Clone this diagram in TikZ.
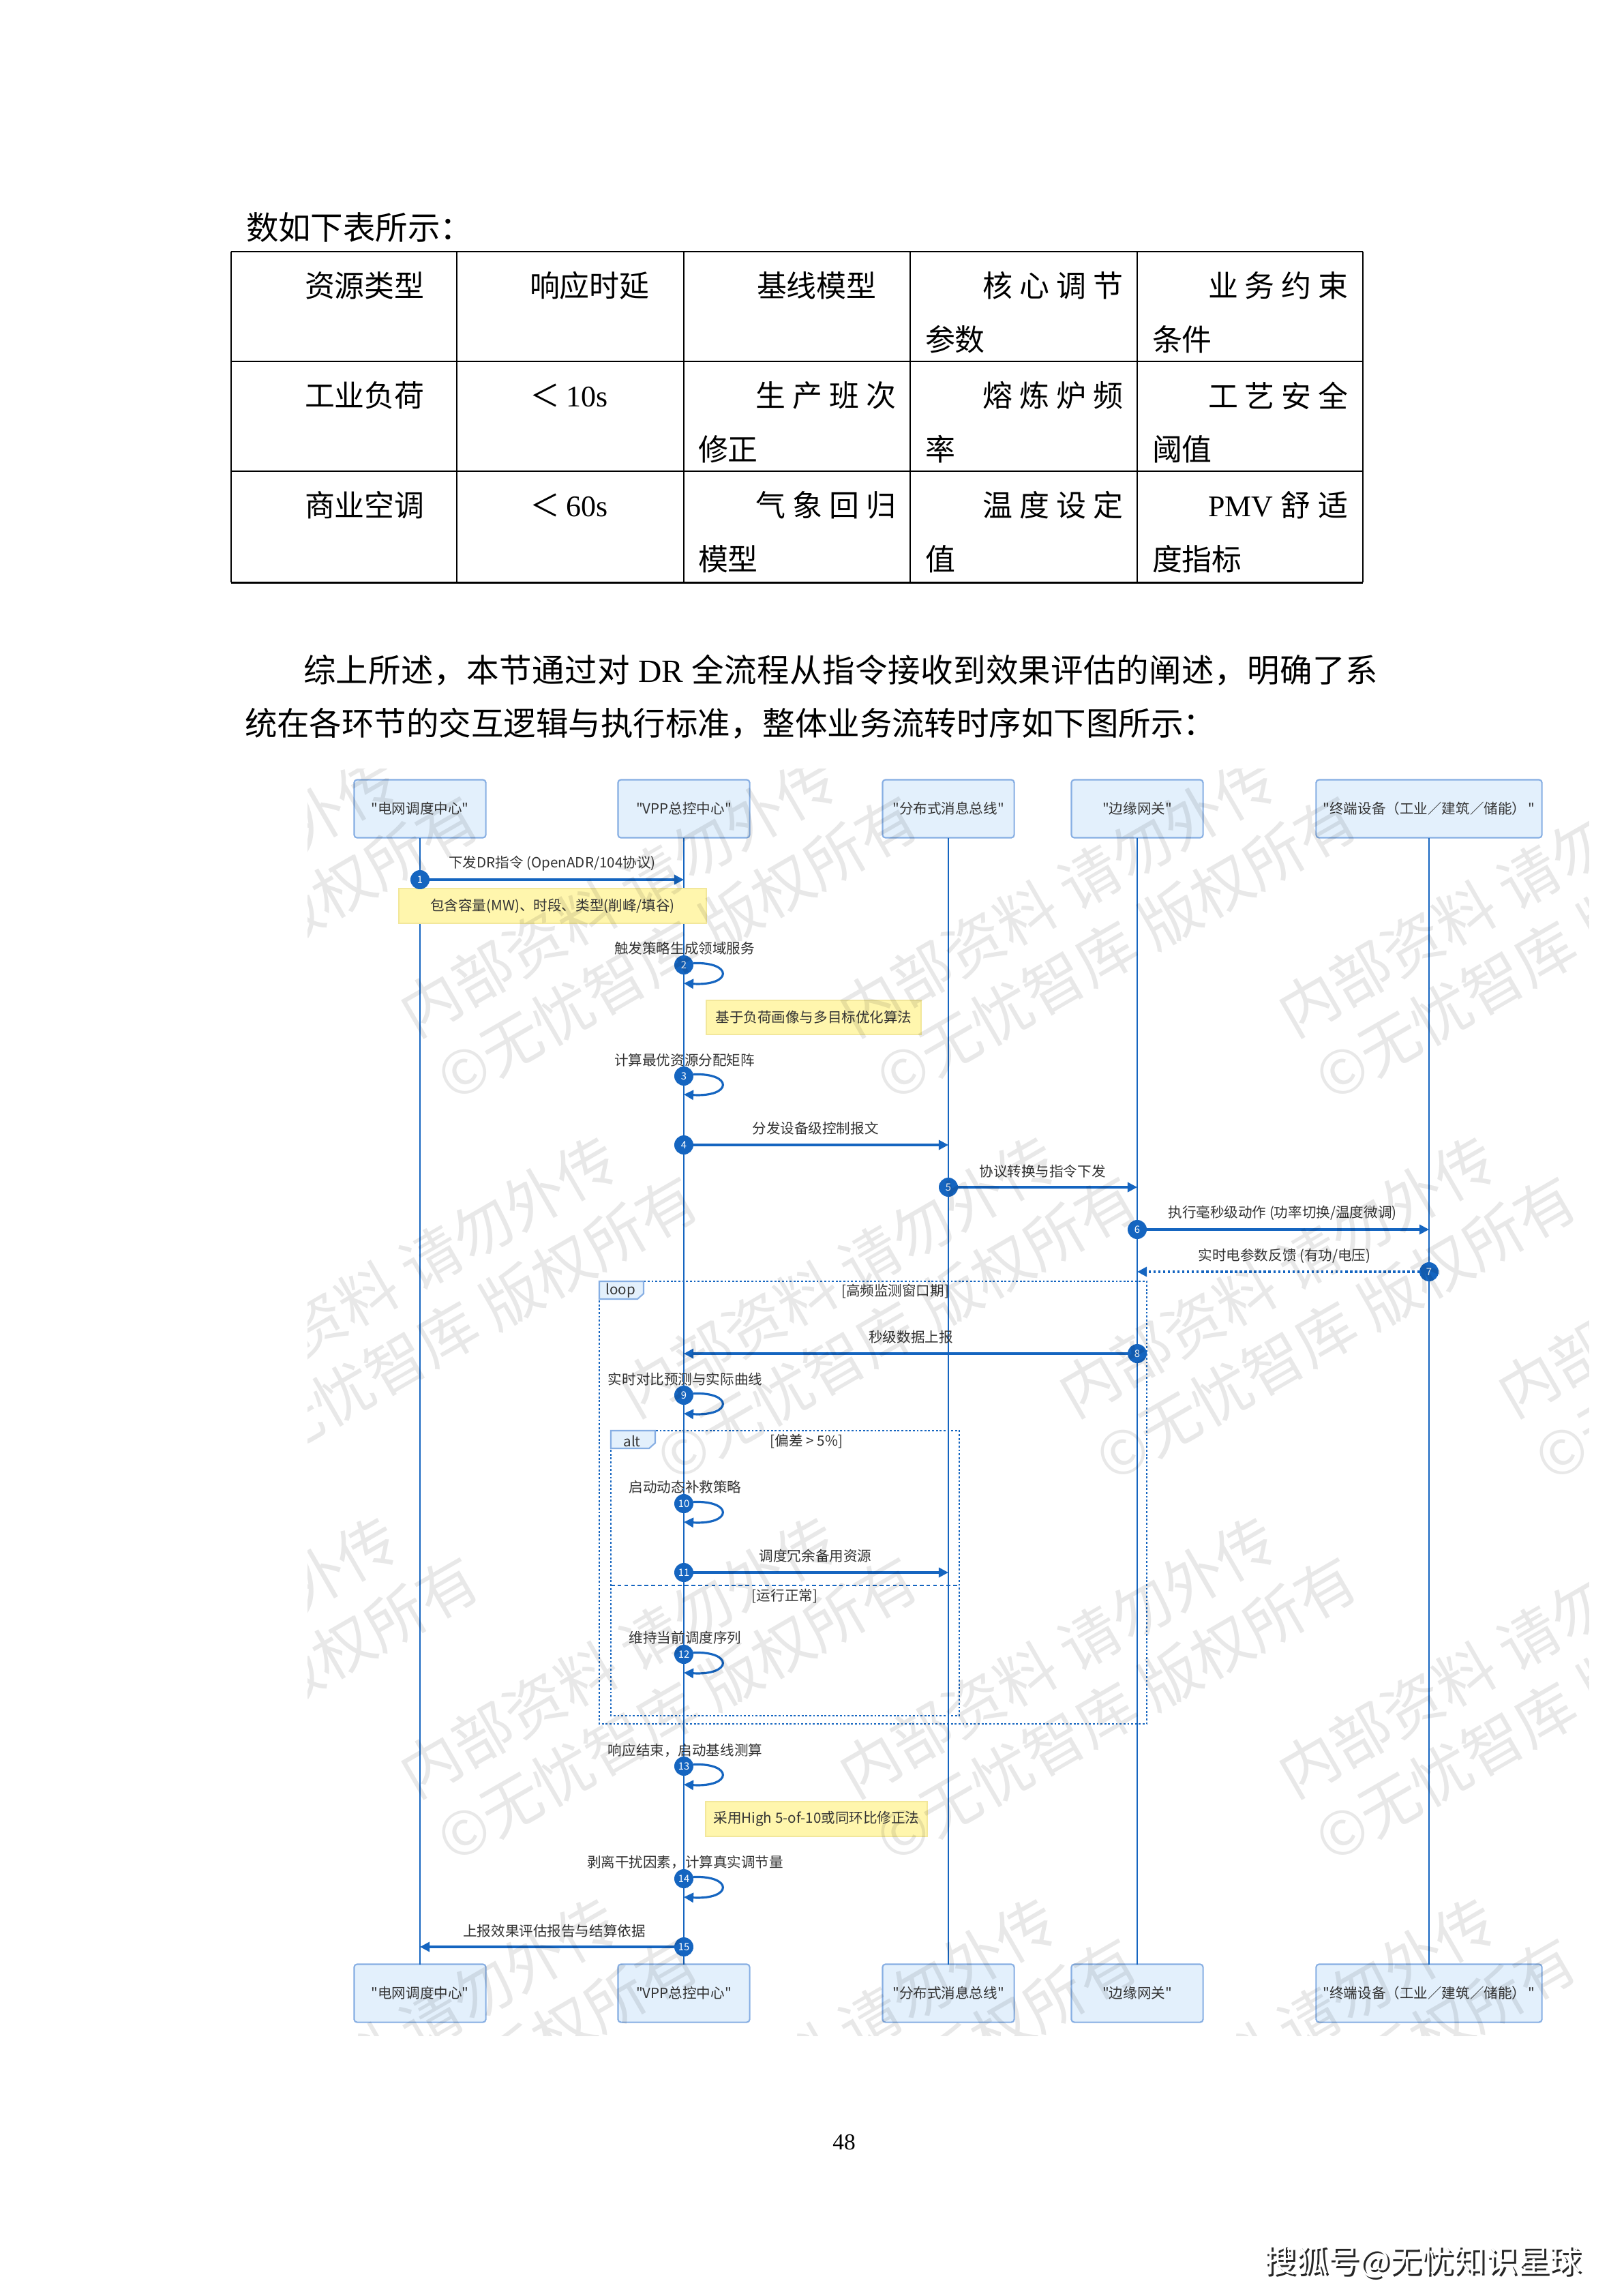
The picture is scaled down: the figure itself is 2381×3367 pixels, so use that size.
\documentclass[tikz,border=0pt]{standalone}
\usepackage{fontspec}
\setmainfont{Noto Sans CJK SC}
\newfontfamily\dgf{Noto Sans CJK SC}
\newfontfamily\lser{Liberation Serif}
\usetikzlibrary{arrows.meta}
\makeatletter
\newcommand\spreadline[2]{\hbox to #1{\@tfor\sl@t:=#2\do{\sl@t\hfil}\unskip}}
\makeatother
\newcommand\bodyfont{\fontsize{13.5pt}{16pt}\selectfont}
\newcommand\tabfont{\fontsize{12.5pt}{15pt}\selectfont}
\newcommand\dgfont{\dgf\fontsize{5.85pt}{7pt}\selectfont}
\newcommand\numfont{\dgf\fontsize{4.2pt}{5pt}\selectfont}
\newcommand\wmfont{\fontsize{25pt}{31pt}\selectfont}
\definecolor{lblue}{HTML}{1565C0}
\definecolor{boxfill}{HTML}{E3F0FC}
\definecolor{boxdraw}{HTML}{86AEE3}
\definecolor{notefill}{HTML}{FFF6AD}
\definecolor{notedraw}{HTML}{F2E79B}
\definecolor{dgtext}{HTML}{333333}
\begin{document}
\begin{tikzpicture}[x=0.01cm,y=-0.01cm,
  every node/.style={inner sep=0pt, outer sep=0pt},
  body/.style={anchor=west, font=\bodyfont},
  tab/.style={anchor=west, font=\tabfont},
  part/.style={draw=boxdraw, fill=boxfill, line width=0.6pt, rounded corners=1.2pt,
     minimum width=1.93cm, minimum height=0.85cm, font=\dgfont, text=dgtext},
  life/.style={lblue, line width=0.7pt},
  msg/.style={lblue, line width=0.9pt, -{Triangle[length=4pt,width=4pt]}},
  reply/.style={msg, dash pattern=on 1pt off 1pt},
  num/.style={circle, fill=lblue, minimum size=0.28cm, text=white, font=\numfont},
  note/.style={fill=notefill, draw=notedraw, line width=0.4pt, font=\dgfont, text=dgtext},
  lbl/.style={font=\dgfont, text=dgtext},
  frame/.style={lblue, line width=0.75pt, dash pattern=on 0.8pt off 0.8pt},
  tagst/.style={fill=boxfill, draw=boxdraw, line width=0.6pt},
  wm/.style={rotate=30, align=left, font=\wmfont, text=black, text opacity=0.09}
]
\useasboundingbox[fill=white] (0,0) rectangle (2381,3367);

% ---------- text above ----------
\node[body] (intro) at (361,334) {数如下表所示：};

% ---------- table ----------
\foreach \yy in {369,530,691,854} \draw[line width=0.85pt] (339,\yy) -- (1999,\yy);
\foreach \xx in {339,670,1003,1335,1668,1999} \draw[line width=0.45pt] (\xx,369) -- (\xx,854);

\node[tab] (c11) at (447,419) {资源类型};
\node[tab] (c12) at (777,419) {响应时延};
\node[tab] (c13) at (1110,419) {基线模型};
\node[tab] (c14a) at (1441,419) {\spreadline{2.06cm}{核心调节}};
\node[tab] (c14b) at (1357,498) {参数};
\node[tab] (c15a) at (1772,419) {\spreadline{2.05cm}{业务约束}};
\node[tab] (c15b) at (1690,498) {条件};

\node[tab] (c21) at (447,580) {工业负荷};
\node[tab] (c22) at (777,580) {＜\hspace{0.1cm}{\lser 10s}};
\node[tab] (c23a) at (1108,580) {\spreadline{2.06cm}{生产班次}};
\node[tab] (c23b) at (1024,659) {修正};
\node[tab] (c24a) at (1441,580) {\spreadline{2.06cm}{熔炼炉频}};
\node[tab] (c24b) at (1357,659) {率};
\node[tab] (c25a) at (1772,580) {\spreadline{2.05cm}{工艺安全}};
\node[tab] (c25b) at (1690,659) {阈值};

\node[tab] (c31) at (447,741) {商业空调};
\node[tab] (c32) at (777,741) {＜\hspace{0.1cm}{\lser 60s}};
\node[tab] (c33a) at (1108,741) {\spreadline{2.06cm}{气象回归}};
\node[tab] (c33b) at (1024,820) {模型};
\node[tab] (c34a) at (1441,741) {\spreadline{2.06cm}{温度设定}};
\node[tab] (c34b) at (1357,820) {值};
\node[tab] (c35a) at (1772,741) {\spreadline{2.05cm}{{{\lser PMV}}舒适}};
\node[tab] (c35b) at (1690,820) {度指标};

% ---------- paragraph ----------
\node[body] (para1) at (445,983) {\spreadline{15.75cm}{综上所述，本节通过对{{\lser\ DR\ }}全流程从指令接收到效果评估的阐述，明确了系}};
\node[body] (para2) at (359,1061) {统在各环节的交互逻辑与执行标准，整体业务流转时序如下图所示：};

% ---------- participants ----------
\node[part] (pa1) at (616,1186) {"电网调度中心"};
\node[part] (pa2) at (1003,1186) {"VPP总控中心"};
\node[part] (pa3) at (1391,1186) {"分布式消息总线"};
\node[part] (pa4) at (1668,1186) {"边缘网关"};
\node[part, minimum width=3.31cm] (pa5) at (2096,1186) {"终端设备（工业／建筑／储能）\,"};
\node[part] (pb1) at (616,2923) {"电网调度中心"};
\node[part] (pb2) at (1003,2923) {"VPP总控中心"};
\node[part] (pb3) at (1391,2923) {"分布式消息总线"};
\node[part] (pb4) at (1668,2923) {"边缘网关"};
\node[part, minimum width=3.31cm] (pb5) at (2096,2923) {"终端设备（工业／建筑／储能）\,"};

\draw[life] (pa1) -- (pb1);
\draw[life] (pa2) -- (pb2);
\draw[life] (pa3) -- (pb3);
\draw[life] (pa4) -- (pb4);
\draw[life] (pa5) -- (pb5);

% ---------- frames ----------
\draw[frame] (879,1879) rectangle (1682,2528);
\draw[tagst] (879,1879) -- (944,1879) -- (944,1897) -- (935,1905) -- (879,1905) -- cycle;
\node[lbl] (looptag) at (910,1893) {loop};
\node[lbl] (loopcond) at (1313,1894) {[高频监测窗口期]};

\draw[frame] (896,2098) rectangle (1407,2516);
\draw[tagst] (896,2098) -- (961,2098) -- (961,2116) -- (952,2124) -- (896,2124) -- cycle;
\node[lbl] (alttag) at (927,2113) {alt};
\node[lbl] (altcond1) at (1183,2114) {[偏差 > 5\%]};
\draw[lblue, line width=0.75pt, dash pattern=on 1.6pt off 1.2pt] (896,2325) -- (1407,2325);
\node[lbl] (altcond2) at (1151,2341) {[运行正常]};

% ---------- notes ----------
\node[note, minimum width=4.51cm, minimum height=0.51cm] (note1) at (810.5,1328.5) {包含容量(MW)、时段、类型(削峰/填谷)};
\node[note, minimum width=3.15cm, minimum height=0.50cm] (note2) at (1193.5,1492) {基于负荷画像与多目标优化算法};
\node[note, minimum width=3.25cm, minimum height=0.51cm] (note3) at (1197.5,2667.5) {采用High 5-of-10或同环比修正法};

% ---------- messages ----------
\node[num] (n1) at (616,1290) {1};
\coordinate (e1) at (1003,1290);
\draw[msg] (n1) -- (e1);
\node[lbl] (l1) at (810,1266) {下发DR指令 (OpenADR/104协议)};

\node[num] (n2) at (1003,1415) {2};
\coordinate (e2) at (1003,1442);
\draw[msg] (n2.10) .. controls (1075,1410) and (1075,1446) .. (e2);
\node[lbl] (l2) at (1004,1391) {触发策略生成领域服务};

\node[num] (n3) at (1003,1578) {3};
\coordinate (e3) at (1003,1605);
\draw[msg] (n3.10) .. controls (1075,1573) and (1075,1609) .. (e3);
\node[lbl] (l3) at (1004,1555) {计算最优资源分配矩阵};

\node[num] (n4) at (1003,1679) {4};
\coordinate (e4) at (1391,1679);
\draw[msg] (n4) -- (e4);
\node[lbl] (l4) at (1196,1655) {分发设备级控制报文};

\node[num] (n5) at (1391,1741) {5};
\coordinate (e5) at (1668,1741);
\draw[msg] (n5) -- (e5);
\node[lbl] (l5) at (1529,1718) {协议转换与指令下发};

\node[num] (n6) at (1668,1803) {6};
\coordinate (e6) at (2096,1803);
\draw[msg] (n6) -- (e6);
\node[lbl] (l6) at (1881,1779) {执行毫秒级动作 (功率切换/温度微调)};

\node[num] (n7) at (2096,1865) {7};
\coordinate (e7) at (1668,1865);
\draw[reply] (n7) -- (e7);
\node[lbl] (l7) at (1884,1842) {实时电参数反馈 (有功/电压)};

\node[num] (n8) at (1668,1985) {8};
\coordinate (e8) at (1003,1985);
\draw[msg] (n8) -- (e8);
\node[lbl] (l8) at (1336,1961) {秒级数据上报};

\node[num] (n9) at (1003,2046) {9};
\coordinate (e9) at (1003,2073);
\draw[msg] (n9.10) .. controls (1075,2041) and (1075,2077) .. (e9);
\node[lbl] (l9) at (1005,2023) {实时对比预测与实际曲线};

\node[num] (n10) at (1003,2205) {10};
\coordinate (e10) at (1003,2232);
\draw[msg] (n10.10) .. controls (1075,2200) and (1075,2236) .. (e10);
\node[lbl] (l10) at (1005,2181) {启动动态补救策略};

\node[num] (n11) at (1003,2306) {11};
\coordinate (e11) at (1391,2306);
\draw[msg] (n11) -- (e11);
\node[lbl] (l11) at (1196,2282) {调度冗余备用资源};

\node[num] (n12) at (1003,2426) {12};
\coordinate (e12) at (1003,2453);
\draw[msg] (n12.10) .. controls (1075,2421) and (1075,2457) .. (e12);
\node[lbl] (l12) at (1005,2402) {维持当前调度序列};

\node[num] (n13) at (1003,2590) {13};
\coordinate (e13) at (1003,2617);
\draw[msg] (n13.10) .. controls (1075,2585) and (1075,2621) .. (e13);
\node[lbl] (l13) at (1005,2567) {响应结束，启动基线测算};

\node[num] (n14) at (1003,2755) {14};
\coordinate (e14) at (1003,2782);
\draw[msg] (n14.10) .. controls (1075,2750) and (1075,2786) .. (e14);
\node[lbl] (l14) at (1005,2731) {剥离干扰因素，计算真实调节量};

\node[num] (n15) at (1003,2855) {15};
\coordinate (e15) at (616,2855);
\draw[msg] (n15) -- (e15);
\node[lbl] (l15) at (813,2832) {上报效果评估报告与结算依据};

% ---------- watermark ----------
\begin{scope}
\clip (451,1127) rectangle (2330,2985);
\foreach \x/\y [count=\i] in {322/1342, 966/1342, 1610/1342, 2254/1342,
   644/1900, 1288/1900, 1932/1900, 2576/1900,
   322/2458, 966/2458, 1610/2458, 2254/2458,
   644/3017, 1288/3017, 1932/3017, 2576/3017}
  \node[wm] (wm\i) at (\x,\y) {内部资料 请勿外传\\©无忧智库 版权所有};
\end{scope}

% ---------- footer ----------
\node[font=\fontsize{9.5pt}{11pt}\selectfont\lser] (pg) at (1238,3142) {48};
\node[font=\fontsize{13.3pt}{15pt}\selectfont, text=black!85] (ftsh) at (2090,3320) {搜狐号@无忧知识星球};
\node[font=\fontsize{13.3pt}{15pt}\selectfont, text=white] (ft) at (2087,3317) {搜狐号@无忧知识星球};
\end{tikzpicture}
\end{document}
